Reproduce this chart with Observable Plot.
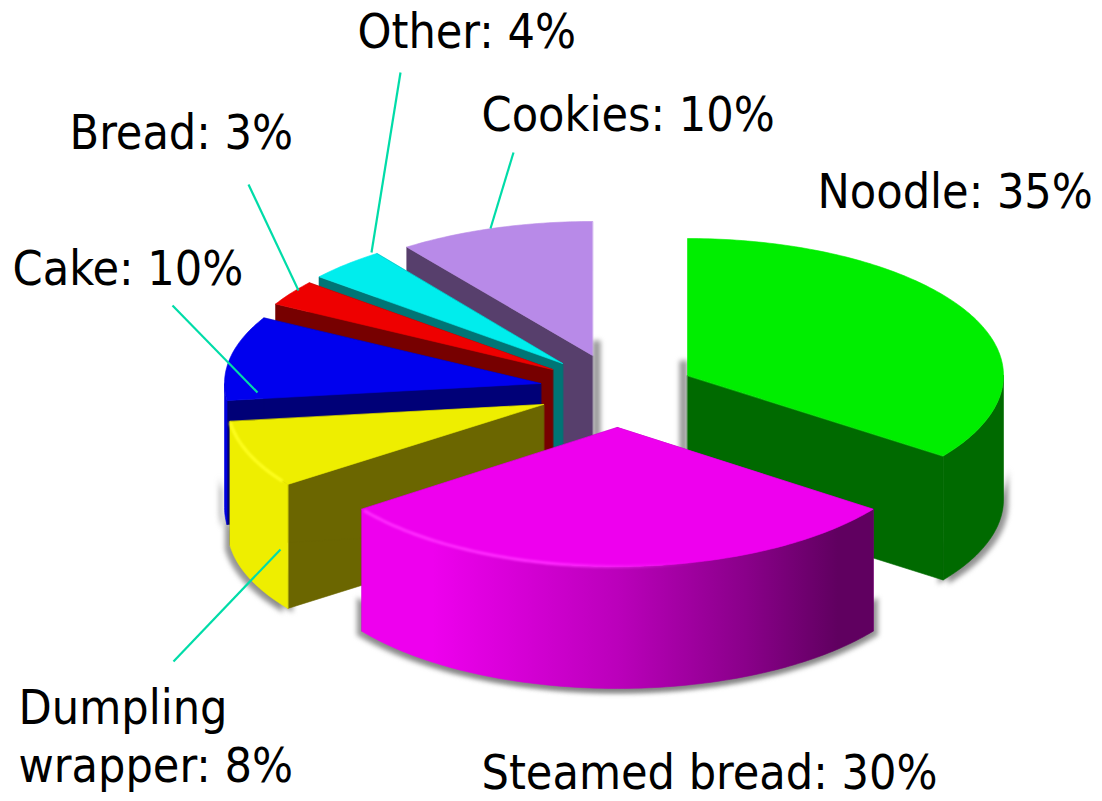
<!DOCTYPE html>
<html>
<head>
<meta charset="utf-8">
<style>
  html, body { margin: 0; padding: 0; background: #fff; overflow: hidden; }
  svg { display: block; }
</style>
<script src="https://cdn.jsdelivr.net/npm/d3@7"></script>
<script src="https://cdn.jsdelivr.net/npm/@observablehq/plot@0.6"></script>
</head>
<body>
<script>
// Flour consumption shares, clockwise from twelve o'clock.
const names = ["Noodle", "Steamed bread", "Dumpling\nwrapper", "Cake", "Bread", "Other", "Cookies"];
const shares = [35, 30, 8, 10, 3, 4, 10];

// Face colours per slice.
const topColors = ["#00ee00", "#ee00ee", "#eeee00", "#0000ee", "#ee0000", "#00eded", "#b88ae8"];
const cutColors = ["#006a00", "#a000a0", "#6b6600", "#000077", "#770000", "#007575", "#573f6c"];
const rimColors = ["#006a00", "url(#rimMagenta)", "#eeee00", "#0000dd", "#770000", "#007575", "#573f6c"];

// Exploded position of each slice's tip on the page.
const tipX = [687, 617, 543, 540, 552, 562, 592];
const tipY = [375, 427, 404, 383, 369, 363, 355];

// Label placement and leader lines (NaN where a label has no leader).
const labelX = [817, 481, 18, 12, 69, 357, 481];
const labelY = [189, 770, 734, 266, 130, 29, 112];
const leadX1 = [NaN, NaN, 173, 172, 248, 400, 513];
const leadY1 = [NaN, NaN, 661, 305, 184, 72, 152];
const leadX2 = [NaN, NaN, 280, 257, 298, 371, 490];
const leadY2 = [NaN, NaN, 549, 392, 290, 252, 228];

// Ellipse radii and wall height of the tilted pie.
const rx = 316;
const radiusY = [137, 139, 136, 136, 136, 136, 134];
const wallHeight = [124, 122, 124, 124, 124, 124, 124];
const shadowBand = 38;
const paintOrder = [6, 5, 4, 3, 2, 0, 1];

const rad = (deg) => (deg * Math.PI) / 180;
const cum = [0, ...d3.cumsum(shares)];
const slices = shares.map((share, i) => ({
  i,
  a0: (cum[i] / 100) * 360,
  a1: (cum[i + 1] / 100) * 360,
  cx: tipX[i],
  cy: tipY[i],
  ry: radiusY[i],
  depth: wallHeight[i]
}));

const rimPoint = (s, a, drop = 0) => ({
  px: s.cx + rx * Math.sin(rad(a)),
  py: s.cy - s.ry * Math.cos(rad(a)) + drop
});
const sweep = (a, b) => d3.range(a, b, 1).concat(b);

const topFace = (s) => [{px: s.cx, py: s.cy}, ...sweep(s.a0, s.a1).map((a) => rimPoint(s, a))];

// A cut face along twelve o'clock is seen edge-on, so it has no visible area.
const cutFace = (s, a) => {
  if (a % 360 === 0) return [];
  const r = rimPoint(s, a);
  return [
    {px: s.cx, py: s.cy},
    r,
    {px: r.px, py: r.py + s.depth},
    {px: s.cx, py: s.cy + s.depth}
  ];
};

// The rim wall only exists on the part of the arc that faces the viewer.
const rimFace = (s, from = 0) => {
  const a = Math.max(s.a0, 90), b = Math.min(s.a1, 270);
  if (a >= b) return [];
  const arc = sweep(a, b);
  return [
    ...arc.map((t) => rimPoint(s, t, from)),
    ...arc.slice().reverse().map((t) => rimPoint(s, t, s.depth))
  ];
};

// Upright strip of shadow beside a slice's tip, on the side facing the gap.
const gapStrip = (s, side) => [
  {px: s.cx, py: s.cy - 15},
  {px: s.cx + side * 8, py: s.cy - 15},
  {px: s.cx + side * 8, py: s.cy + s.depth - 15},
  {px: s.cx, py: s.cy + s.depth - 15}
];

const polygon = (pts, options) =>
  Plot.line(pts, {x: "px", y: "py", curve: "linear-closed", ...options});

const shadowOptions = {fill: "#7d7d7d", stroke: "none", fillOpacity: 0.8, imageFilter: "blur(2.5px)"};

// Soft shadows sit below every slice: along the foot of each rim wall and
// beside the two tips that border the empty gap at the top of the pie.
const shadowMarks = [
  ...slices.flatMap((s) => {
    const band = rimFace(s, s.depth - shadowBand);
    return [
      polygon(band, {...shadowOptions, dx: 5, dy: 4}),
      polygon(band, {...shadowOptions, dx: -5, dy: 4})
    ];
  }),
  polygon(gapStrip(slices[0], -1), shadowOptions),
  polygon(gapStrip(slices[6], 1), shadowOptions)
];

const solid = (color) => ({fill: color, stroke: color, strokeWidth: 0.6});

const sliceMarks = paintOrder.flatMap((i) => {
  const s = slices[i];
  return [
    polygon(cutFace(s, s.a0), solid(cutColors[i])),
    polygon(cutFace(s, s.a1), solid(cutColors[i])),
    polygon(rimFace(s), solid(rimColors[i])),
    polygon(topFace(s), solid(topColors[i]))
  ];
});

// Bright edge where the rounded rim meets the top of the two front slices.
const glint = (i, a, b, color) =>
  Plot.line(sweep(a, b).map((t) => rimPoint(slices[i], t)), {
    x: "px", y: "py", stroke: color, strokeWidth: 3, imageFilter: "blur(1px)"
  });

const labels = names.map((name, i) => ({
  text: `${name}: ${shares[i]}%`,
  x: labelX[i],
  y: labelY[i]
}));
const leaders = names
  .map((_, i) => ({x1: leadX1[i], y1: leadY1[i], x2: leadX2[i], y2: leadY2[i]}))
  .filter((d) => !isNaN(d.x1));

const gradients = () => {
  const defs = d3.create("svg:defs");
  const wall = defs.append("linearGradient")
    .attr("id", "rimMagenta")
    .attr("gradientUnits", "userSpaceOnUse")
    .attr("x1", 360).attr("x2", 873).attr("y1", 0).attr("y2", 0);
  [[0, "#ee00ee"], [0.14, "#ee00ee"], [0.5, "#bb00bb"], [0.75, "#8a008a"], [0.93, "#600060"], [1, "#600060"]]
    .forEach(([o, c]) => wall.append("stop").attr("offset", o).attr("stop-color", c));
  const shine = defs.append("linearGradient")
    .attr("id", "glintMagenta")
    .attr("gradientUnits", "userSpaceOnUse")
    .attr("x1", 360).attr("x2", 700).attr("y1", 0).attr("y2", 0);
  [[0, 1], [0.55, 1], [1, 0]]
    .forEach(([o, a]) => shine.append("stop").attr("offset", o).attr("stop-color", "#ff2cff").attr("stop-opacity", a));
  return defs.node();
};

const chart = Plot.plot({
  width: 1102,
  height: 801,
  margin: 0,
  x: {domain: [0, 1102], axis: null},
  y: {domain: [801, 0], axis: null},
  style: {background: "#fff"},
  marks: [
    gradients,
    ...shadowMarks,
    ...sliceMarks,
    glint(1, 160, 233, "url(#glintMagenta)"),
    glint(2, 236, 262, "#ffff20"),
    Plot.link(leaders, {x1: "x1", y1: "y1", x2: "x2", y2: "y2", stroke: "#00dca8", strokeWidth: 2.2}),
    Plot.text(labels, {
      x: "x", y: "y", text: "text",
      textAnchor: "start",
      lineAnchor: "middle",
      lineHeight: 1.21,
      fontSize: 48,
      fontFamily: "'DejaVu Sans Condensed', 'DejaVu Sans'",
      fill: "#000"
    })
  ]
});
document.body.append(chart);
</script>
</body>
</html>
